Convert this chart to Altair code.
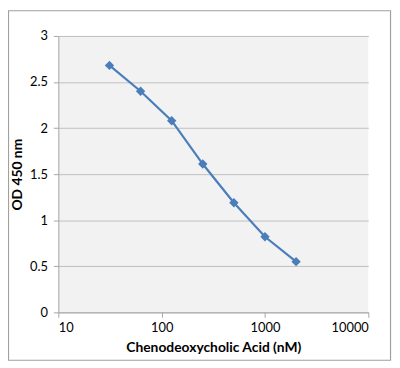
import altair as alt
import pandas as pd

conc = [31.25, 62.5, 125, 250, 500, 1000, 2000]
od = [2.68, 2.40, 2.08, 1.61, 1.19, 0.82, 0.55]
x_ticks = [10, 100, 1000, 10000]
y_ticks = [0, 0.5, 1, 1.5, 2, 2.5, 3]

df = pd.DataFrame({"conc": conc, "od": od})

FONT = "Lato"
BLUE = "#4a7ebb"

x = alt.X("conc:Q", scale=alt.Scale(type="log", domain=[10, 10000]),
          axis=alt.Axis(values=x_ticks, format="d", title="Chenodeoxycholic Acid (nM)",
                        grid=False, domainColor="#a6a6a6", tickColor="#a6a6a6",
                        tickSize=5, labelPadding=4, titlePadding=7))
y = alt.Y("od:Q", scale=alt.Scale(domain=[0, 3], nice=False),
          axis=alt.Axis(values=y_ticks, format="~g", title="OD 450 nm",
                        grid=True, gridColor="#bfbfbf", domainColor="#a6a6a6",
                        tickColor="#a6a6a6", tickSize=5, labelPadding=6, titlePadding=5))

line = alt.Chart(df).mark_line(color=BLUE, strokeWidth=2.2).encode(x=x, y=y)
pts = alt.Chart(df).mark_point(shape="diamond", filled=True, color=BLUE, size=90, opacity=1).encode(x=x, y=y)

border = alt.Chart(pd.DataFrame({"a": [0]})).mark_rect(
    fill=None, stroke="#a0a0a0", strokeWidth=1.2, clip=False
).encode(x=alt.value(-50.5), x2=alt.value(336.5), y=alt.value(-25.5), y2=alt.value(328.5))

chart = alt.layer(border, line, pts).properties(
    width=314, height=280,
    autosize=alt.AutoSizeParams(type="none"),
    padding={"left": 51, "top": 26, "right": 24, "bottom": 50},
    background="white",
).configure_view(fill="#f2f2f2", stroke=None).configure_axis(
    labelFont=FONT, titleFont=FONT, labelFontSize=13, titleFontSize=14,
    labelColor="black", titleColor="black", titleFontWeight="bold"
)

chart.save("out.html", embed_options={"renderer": "svg", "actions": False})
